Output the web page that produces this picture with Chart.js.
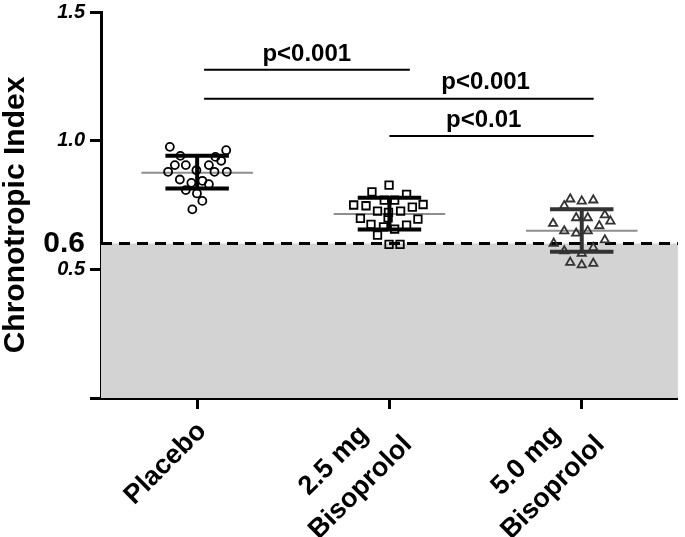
<!DOCTYPE html>
<html><head><meta charset="utf-8">
<script src="https://cdn.jsdelivr.net/npm/chart.js@4.4.1/dist/chart.umd.min.js"></script>
<style>html,body{margin:0;padding:0;background:#fff;}#wrap{width:685px;height:537px;position:relative;}</style>
</head><body><div id="wrap"><canvas id="c" width="685" height="537"></canvas></div>
<script>
// ---- data ----
const categories = [['Placebo'], ['2.5 mg', 'Bisoprolol'], ['5.0 mg', 'Bisoprolol']];
const yTickValues = [0, 0.5, 0.6, 1.0, 1.5];
const threshold = 0.6;

const placeboValues = [0.976, 0.941, 0.963, 0.937, 0.922, 0.905, 0.905, 0.879, 0.885, 0.905, 0.879, 0.879, 0.849, 0.836, 0.844, 0.831, 0.808, 0.795, 0.766, 0.733];
const placeboJitter = [-0.142, -0.087, 0.151, 0.095, 0.125, -0.116, -0.059, -0.151, -0.004, 0.061, 0.090, 0.154, -0.090, -0.030, 0.027, 0.061, -0.059, -0.001, 0.027, -0.025];

const biso25Values = [0.827, 0.801, 0.769, 0.791, 0.769, 0.750, 0.747, 0.752, 0.742, 0.726, 0.726, 0.721, 0.700, 0.698, 0.695, 0.675, 0.665, 0.672, 0.656, 0.633, 0.597, 0.597];
const biso25Jitter = [-0.002, -0.091, -0.027, 0.089, 0.027, -0.186, -0.122, 0.175, 0.119, -0.062, 0.058, -0.005, -0.007, -0.151, 0.148, -0.096, -0.031, 0.089, 0.027, -0.062, -0.002, 0.055];

const biso50Values = [0.773, 0.765, 0.769, 0.747, 0.700, 0.700, 0.711, 0.687, 0.669, 0.678, 0.649, 0.640, 0.649, 0.601, 0.614, 0.571, 0.562, 0.584, 0.527, 0.517, 0.523];
const biso50Jitter = [-0.060, 0, 0.060, -0.091, -0.029, 0.031, 0.120, 0.149, 0.091, -0.149, -0.091, -0.029, 0.031, -0.146, 0.120, -0.091, 0, 0.060, -0.060, 0, 0.060];

const groupMeans = [0.875, 0.715, 0.650];
const sdLow = [0.814, 0.655, 0.568];
const sdHigh = [0.941, 0.778, 0.733];

const bracketStart = [0.036, 0.036, 1.0];
const bracketEnd = [1.106, 2.062, 2.062];
const bracketY = [1.276, 1.163, 1.018];
const pLabels = ['p<0.001', 'p<0.001', 'p<0.01'];
const pLabelX = [0.57, 1.50, 1.49];
const pLabelY = [1.31, 1.20, 1.055];

const yTitle = 'Chronotropic Index';

// ---- styles ----
const FONT = '"Liberation Sans", Arial, Helvetica, sans-serif';
const groupColors = ['#000000', '#000000', '#333333'];
const pointStyles = ['circle', 'rect', 'triangle'];
const pointRadii = [4, 5.3, 4.8];
const meanHalf = 0.29, capHalf = 0.165;

const groups = [
  [placeboValues, placeboJitter],
  [biso25Values, biso25Jitter],
  [biso50Values, biso50Jitter]
];

const datasets = [];
// threshold: grey band below + dashed line
datasets.push({
  type: 'line', data: [{x: -0.5, y: threshold}, {x: 2.5, y: threshold}],
  borderColor: '#000', borderWidth: 3, borderDash: [11, 7],
  backgroundColor: '#d3d3d3', fill: 'origin', pointRadius: 0, order: 10
});
// group means (grey)
groupMeans.forEach((m, i) => {
  datasets.push({
    type: 'line', data: [{x: i - meanHalf, y: m}, {x: i + meanHalf, y: m}],
    borderColor: '#8e8e8e', borderWidth: 2, pointRadius: 0, fill: false, order: 5
  });
});
// individual points
groups.forEach(([vals, jit], i) => {
  datasets.push({
    type: 'scatter',
    data: vals.map((v, k) => ({x: i + jit[k], y: v})),
    pointStyle: pointStyles[i], pointRadius: pointRadii[i], pointBorderWidth: 1.8,
    borderColor: groupColors[i], backgroundColor: 'rgba(0,0,0,0)', order: 3
  });
});
// SD bars
groupMeans.forEach((m, i) => {
  const c = groupColors[i];
  const common = {type: 'line', borderColor: c, borderWidth: 4, pointRadius: 0, fill: false, order: 1, borderCapStyle: 'butt'};
  datasets.push(Object.assign({data: [{x: i, y: sdLow[i]}, {x: i, y: sdHigh[i]}]}, common));
  datasets.push(Object.assign({data: [{x: i - capHalf, y: sdHigh[i]}, {x: i + capHalf, y: sdHigh[i]}]}, common));
  datasets.push(Object.assign({data: [{x: i - capHalf, y: sdLow[i]}, {x: i + capHalf, y: sdLow[i]}]}, common));
});
// significance brackets
bracketY.forEach((y, i) => {
  datasets.push({
    type: 'line', data: [{x: bracketStart[i], y: y}, {x: bracketEnd[i], y: y}],
    borderColor: '#000', borderWidth: 2, pointRadius: 0, fill: false, order: 1
  });
});

const annotationPlugin = {
  id: 'annot',
  afterDraw(chart) {
    const ctx = chart.ctx, xs = chart.scales.x, ys = chart.scales.y;
    ctx.save();
    ctx.fillStyle = '#000';
    ctx.font = 'bold 24px ' + FONT;
    ctx.textAlign = 'center';
    ctx.textBaseline = 'alphabetic';
    pLabels.forEach((t, i) => {
      ctx.fillText(t, xs.getPixelForValue(pLabelX[i]), ys.getPixelForValue(pLabelY[i]));
    });
    // y title
    ctx.save();
    ctx.font = 'bold 30px ' + FONT;
    ctx.translate(16, (ys.top + ys.bottom) / 2 + 10);
    ctx.rotate(-Math.PI / 2);
    ctx.textAlign = 'center';
    ctx.textBaseline = 'middle';
    ctx.fillText(yTitle, 0, 0);
    ctx.restore();
    // category labels, rotated 45 degrees, lines centred
    ctx.font = 'bold 27px ' + FONT;
    categories.forEach((lines, i) => {
      const px = xs.getPixelForValue(i) + 5;
      const py = xs.top + 29;
      ctx.save();
      ctx.translate(px, py);
      ctx.rotate(-Math.PI / 4);
      const W = Math.max(...lines.map(l => ctx.measureText(l).width));
      const lh = 38;
      ctx.textAlign = 'center';
      ctx.textBaseline = 'middle';
      lines.forEach((l, j) => {
        ctx.fillText(l, -W / 2, (j - (lines.length - 1) / 2) * lh);
      });
      ctx.restore();
    });
    ctx.restore();
  }
};

new Chart(document.getElementById('c'), {
  type: 'scatter',
  data: {datasets},
  options: {
    responsive: false,
    animation: false,
    devicePixelRatio: 1,
    layout: {padding: {top: 12, right: -3, left: 0, bottom: 0}},
    plugins: {legend: {display: false}, tooltip: {enabled: false}},
    scales: {
      x: {
        type: 'linear', min: -0.5, max: 2.5,
        afterBuildTicks: s => { s.ticks = categories.map((c, i) => ({value: i})); },
        afterFit: s => { s.height = 139; s.paddingLeft = 0; s.paddingRight = 0; s.paddingTop = 0; s.paddingBottom = 0; },
        ticks: {display: false},
        grid: {drawOnChartArea: false, drawTicks: true, tickLength: 11, tickWidth: 3, tickColor: '#000'},
        border: {display: true, color: '#000', width: 3}
      },
      y: {
        type: 'linear', min: 0, max: 1.5,
        afterBuildTicks: s => { s.ticks = yTickValues.map(v => ({value: v})); },
        afterFit: s => { s.width = 101; s.paddingTop = 0; s.paddingBottom = 0; s.paddingLeft = 0; s.paddingRight = 0; },
        ticks: {
          padding: 5, color: '#000', autoSkip: false,
          callback: v => v === 0 ? '' : (v === threshold ? '0.6' : v.toFixed(1)),
          font: ctx => (ctx.tick && ctx.tick.value === threshold)
            ? {family: FONT, size: 30, weight: 'bold', style: 'normal'}
            : {family: FONT, size: 20, weight: 'bold', style: 'italic'}
        },
        grid: {
          drawOnChartArea: false, drawTicks: true, tickLength: 11, tickWidth: 3,
          tickColor: ctx => (ctx.tick && ctx.tick.value === threshold) ? 'rgba(0,0,0,0)' : '#000'
        },
        border: {display: true, color: '#000', width: 3},
        title: {display: false}
      }
    }
  },
  plugins: [annotationPlugin]
});
</script>
</body></html>
